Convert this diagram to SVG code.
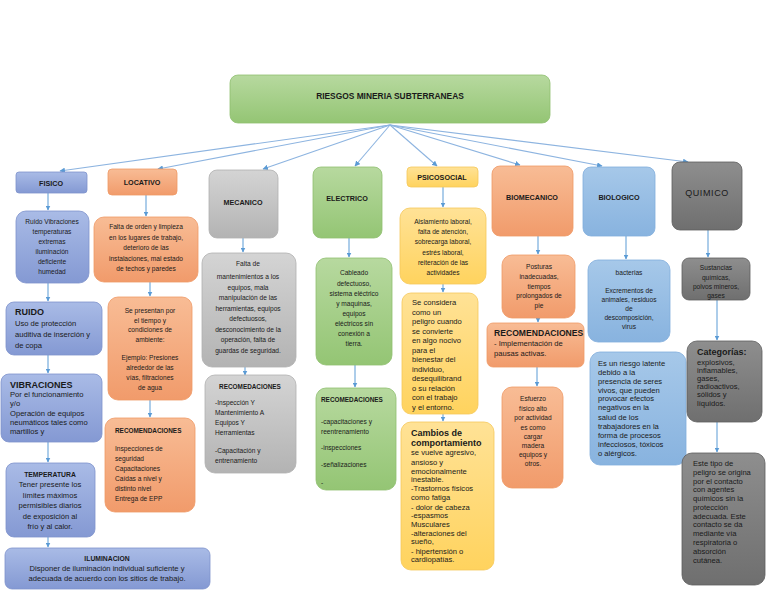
<svg xmlns="http://www.w3.org/2000/svg" width="768" height="594" viewBox="0 0 768 594">
<defs>
<linearGradient id="gGreen" x1="0" y1="0" x2="0" y2="1"><stop offset="0" stop-color="#b7d99f"/><stop offset="1" stop-color="#94c574"/></linearGradient>
<linearGradient id="gBlue" x1="0" y1="0" x2="0" y2="1"><stop offset="0" stop-color="#a9bbe6"/><stop offset="1" stop-color="#8499d3"/></linearGradient>
<linearGradient id="gOrange" x1="0" y1="0" x2="0" y2="1"><stop offset="0" stop-color="#f8bc95"/><stop offset="1" stop-color="#f19b6b"/></linearGradient>
<linearGradient id="gGray" x1="0" y1="0" x2="0" y2="1"><stop offset="0" stop-color="#d4d4d4"/><stop offset="1" stop-color="#b3b3b3"/></linearGradient>
<linearGradient id="gYellow" x1="0" y1="0" x2="0" y2="1"><stop offset="0" stop-color="#ffe296"/><stop offset="1" stop-color="#ffd35e"/></linearGradient>
<linearGradient id="gLBlue" x1="0" y1="0" x2="0" y2="1"><stop offset="0" stop-color="#a6c8e9"/><stop offset="1" stop-color="#88b3df"/></linearGradient>
<linearGradient id="gDark" x1="0" y1="0" x2="0" y2="1"><stop offset="0" stop-color="#8e8e8e"/><stop offset="1" stop-color="#6f6f6f"/></linearGradient>
<marker id="arr" viewBox="0 0 10 10" refX="9" refY="5" markerWidth="5" markerHeight="5" orient="auto"><path d="M0,0 L10,5 L0,10 z" fill="#5b9bd5"/></marker>
</defs>
<style>
.green{fill:url(#gGreen);stroke:#8fbf70;stroke-width:0.8}
.blue{fill:url(#gBlue);stroke:#7d92cc;stroke-width:0.8}
.orange{fill:url(#gOrange);stroke:#ef9966;stroke-width:0.8}
.gray{fill:url(#gGray);stroke:#b0b0b0;stroke-width:0.8}
.yellow{fill:url(#gYellow);stroke:#f5c85a;stroke-width:0.8}
.lblue{fill:url(#gLBlue);stroke:#82addc;stroke-width:0.8}
.dark{fill:url(#gDark);stroke:#5e5e5e;stroke-width:0.8}
text{font-family:"Liberation Sans",Arial,sans-serif;fill:#1a1a1a}
.t{font-size:6.6px;text-anchor:middle}
.tl{font-size:6.6px}
.a{font-size:7.6px}
.am{font-size:7.6px;text-anchor:middle}
.h{font-size:7.2px;font-weight:bold;text-anchor:middle}
.hl{font-size:6.8px;font-weight:bold}
.hb{font-size:9px;font-weight:bold}
.con line{stroke:#5b9bd5;stroke-width:1;marker-end:url(#arr)}
.con .top{stroke:#8db4e0;stroke-width:1.1}
</style>

<g id="connectors" class="con">
<line class="top" x1="390" y1="125" x2="60" y2="171"/>
<line class="top" x1="390" y1="125" x2="158" y2="169"/>
<line class="top" x1="390" y1="125" x2="263" y2="169"/>
<line class="top" x1="390" y1="125" x2="355" y2="166"/>
<line class="top" x1="390" y1="125" x2="437" y2="166"/>
<line class="top" x1="390" y1="125" x2="520" y2="165"/>
<line class="top" x1="390" y1="125" x2="602" y2="166"/>
<line class="top" x1="390" y1="125" x2="688" y2="162"/>
<line x1="48" y1="193" x2="48" y2="210"/>
<line x1="48" y1="283" x2="48" y2="301"/>
<line x1="48" y1="355" x2="48" y2="373"/>
<line x1="48" y1="442" x2="48" y2="462"/>
<line x1="48" y1="537" x2="48" y2="547"/>
<line x1="146" y1="195" x2="146" y2="216"/>
<line x1="150" y1="282" x2="150" y2="296"/>
<line x1="150" y1="400" x2="150" y2="417"/>
<line x1="243" y1="238" x2="243" y2="252"/>
<line x1="245" y1="367" x2="245" y2="375"/>
<line x1="349" y1="238" x2="349" y2="257"/>
<line x1="355" y1="365" x2="355" y2="387"/>
<line x1="443" y1="187" x2="443" y2="207"/>
<line x1="443" y1="284" x2="443" y2="292"/>
<line x1="443" y1="414" x2="443" y2="421"/>
<line x1="538" y1="236" x2="538" y2="254"/>
<line x1="538" y1="318" x2="538" y2="322"/>
<line x1="537" y1="367" x2="537" y2="386"/>
<line x1="626" y1="236" x2="626" y2="259"/>
<line x1="708" y1="230" x2="708" y2="257"/>
<line x1="717" y1="300" x2="717" y2="340"/>
<line x1="717" y1="422" x2="717" y2="452"/>
</g>

<g id="title">
<rect class="green" x="230" y="75" width="320" height="48" rx="8"/>
<text x="390" y="99" style="font-size:8.4px;font-weight:bold;text-anchor:middle">RIESGOS MINERIA SUBTERRANEAS</text>
</g>

<!-- FISICO column -->
<g id="fisico">
<rect class="blue" x="16" y="172" width="71" height="21" rx="3"/>
<text class="h" x="51" y="185.5">FISICO</text>
</g>
<g id="fisico-1">
<rect class="blue" x="16" y="211" width="73" height="72" rx="10"/>
<text class="t"><tspan x="52" y="224">Ruido Vibraciones</tspan><tspan x="52" y="234">temperaturas</tspan><tspan x="52" y="244">extremas</tspan><tspan x="52" y="254">iluminación</tspan><tspan x="52" y="264">deficiente</tspan><tspan x="52" y="274">humedad</tspan></text>
</g>
<g id="ruido">
<rect class="blue" x="6" y="302" width="96" height="53" rx="8"/>
<text class="hb" x="15" y="315">RUIDO</text>
<text class="a"><tspan x="15" y="326">Uso de protección</tspan><tspan x="15" y="337">auditiva de inserción y</tspan><tspan x="15" y="348">de copa</tspan></text>
</g>
<g id="vibraciones">
<rect class="blue" x="1" y="374" width="101" height="68" rx="8"/>
<text class="hb" x="10" y="388">VIBRACIONES</text>
<text class="a"><tspan x="10" y="397">Por el funcionamiento</tspan><tspan x="10" y="406">y/o</tspan><tspan x="10" y="416">Operación de equipos</tspan><tspan x="10" y="425">neumáticos tales como</tspan><tspan x="10" y="434">martillos y</tspan></text>
</g>
<g id="temperatura">
<rect class="blue" x="6" y="463" width="89" height="74" rx="8"/>
<text class="h" x="50" y="477" style="font-size:6.8px">TEMPERATURA</text>
<text class="am"><tspan x="50" y="487">Tener presente los</tspan><tspan x="50" y="497.5">límites máximos</tspan><tspan x="50" y="508">permisibles diarios</tspan><tspan x="50" y="518.5">de exposición al</tspan><tspan x="50" y="529">frío y al calor.</tspan></text>
</g>
<g id="iluminacion">
<rect class="blue" x="5" y="548" width="205" height="41" rx="7"/>
<text class="h" x="107" y="561" style="font-size:6.8px">ILUMINACION</text>
<text class="am"><tspan x="107" y="571">Disponer de iluminación individual suficiente y</tspan><tspan x="107" y="581">adecuada de acuerdo con los sitios de trabajo.</tspan></text>
</g>

<!-- LOCATIVO column -->
<g id="locativo">
<rect class="orange" x="108" y="169" width="69" height="26" rx="4"/>
<text class="h" x="142" y="185">LOCATIVO</text>
</g>
<g id="locativo-1">
<rect class="orange" x="94" y="217" width="104" height="65" rx="10"/>
<text class="t"><tspan x="146" y="229">Falta de orden y limpieza</tspan><tspan x="146" y="240">en los lugares de trabajo,</tspan><tspan x="146" y="250">deterioro de las</tspan><tspan x="146" y="261">instalaciones, mal estado</tspan><tspan x="146" y="271">de techos y paredes</tspan></text>
</g>
<g id="locativo-2">
<rect class="orange" x="108" y="297" width="84" height="103" rx="10"/>
<text class="t"><tspan x="150" y="313">Se presentan por</tspan><tspan x="150" y="322.5">el tiempo y</tspan><tspan x="150" y="332">condiciones de</tspan><tspan x="150" y="342">ambiente:</tspan><tspan x="150" y="360">Ejemplo: Presiones</tspan><tspan x="150" y="369.5">alrededor de las</tspan><tspan x="150" y="379.5">vías, filtraciones</tspan><tspan x="150" y="390">de agua</tspan></text>
</g>
<g id="locativo-rec">
<rect class="orange" x="105" y="418" width="90" height="94" rx="10"/>
<text class="hl" x="115" y="433" style="font-size:6.4px">RECOMENDACIONES</text>
<text class="tl"><tspan x="115" y="451">Inspecciones de</tspan><tspan x="115" y="461">seguridad</tspan><tspan x="115" y="471">Capacitaciones</tspan><tspan x="115" y="481">Caídas a nivel y</tspan><tspan x="115" y="491">distinto nivel</tspan><tspan x="115" y="501">Entrega de EPP</tspan></text>
</g>

<!-- MECANICO column -->
<g id="mecanico">
<rect class="gray" x="209" y="170" width="69" height="68" rx="8"/>
<text class="h" x="243" y="205">MECANICO</text>
</g>
<g id="mecanico-1">
<rect class="gray" x="202" y="253" width="94" height="114" rx="10"/>
<text class="t"><tspan x="248" y="266">Falta de</tspan><tspan x="248" y="279">mantenimientos a los</tspan><tspan x="248" y="289.5">equipos, mala</tspan><tspan x="248" y="300">manipulación de las</tspan><tspan x="248" y="311">herramientas, equipos</tspan><tspan x="248" y="321">defectuosos,</tspan><tspan x="248" y="332">desconocimiento de la</tspan><tspan x="248" y="342">operación, falta de</tspan><tspan x="248" y="353">guardas de seguridad.</tspan></text>
</g>
<g id="mecanico-rec">
<rect class="gray" x="205" y="375" width="91" height="98" rx="10"/>
<text class="h" x="250" y="389" style="font-size:6.4px">RECOMEDACIONES</text>
<text class="tl"><tspan x="215" y="405">-Inspección Y</tspan><tspan x="215" y="415">Mantenimiento A</tspan><tspan x="215" y="425">Equipos Y</tspan><tspan x="215" y="434.5">Herramientas</tspan><tspan x="215" y="452.5">-Capacitación y</tspan><tspan x="215" y="462.5">entrenamiento</tspan></text>
</g>

<!-- ELECTRICO column -->
<g id="electrico">
<rect class="green" x="313" y="167" width="69" height="71" rx="8"/>
<text class="h" x="347" y="200.5">ELECTRICO</text>
</g>
<g id="electrico-1">
<rect class="green" x="316" y="258" width="76" height="107" rx="10"/>
<text class="t"><tspan x="354" y="275">Cableado</tspan><tspan x="354" y="286">defectuoso,</tspan><tspan x="354" y="296">sistema eléctrico</tspan><tspan x="354" y="306">y maquinas,</tspan><tspan x="354" y="316">equipos</tspan><tspan x="354" y="326">eléctricos sin</tspan><tspan x="354" y="336">conexión a</tspan><tspan x="354" y="346">tierra.</tspan></text>
</g>
<g id="electrico-rec">
<rect class="green" x="316" y="388" width="80" height="102" rx="10"/>
<text class="hl" x="321" y="402" style="font-size:6.4px">RECOMEDACIONES</text>
<text class="tl"><tspan x="321" y="424">-capacitaciones y</tspan><tspan x="321" y="434">reentrenamiento</tspan><tspan x="321" y="450">-inspecciones</tspan><tspan x="321" y="467">-señalizaciones</tspan><tspan x="321" y="485">-</tspan></text>
</g>

<!-- PSICOSOCIAL column -->
<g id="psicosocial">
<rect class="yellow" x="407" y="167" width="71" height="20" rx="4"/>
<text class="h" x="442" y="180">PSICOSOCIAL</text>
</g>
<g id="psicosocial-1">
<rect class="yellow" x="400" y="208" width="86" height="76" rx="10"/>
<text class="t"><tspan x="443" y="224">Aislamiento laboral,</tspan><tspan x="443" y="234">falta de atención,</tspan><tspan x="443" y="244">sobrecarga laboral,</tspan><tspan x="443" y="255">estrés laboral,</tspan><tspan x="443" y="265">reiteración de las</tspan><tspan x="443" y="275">actividades</tspan></text>
</g>
<g id="psicosocial-2">
<rect class="yellow" x="402" y="293" width="76" height="121" rx="9"/>
<text class="a"><tspan x="412" y="305">Se considera</tspan><tspan x="412" y="314.5">como un</tspan><tspan x="412" y="324">peligro cuando</tspan><tspan x="412" y="333.5">se convierte</tspan><tspan x="412" y="343">en algo nocivo</tspan><tspan x="412" y="352.5">para el</tspan><tspan x="412" y="362">bienestar del</tspan><tspan x="412" y="371.5">individuo,</tspan><tspan x="412" y="381">desequilibrand</tspan><tspan x="412" y="390.5">o su relación</tspan><tspan x="412" y="400">con el trabajo</tspan><tspan x="412" y="409.5">y el entorno.</tspan></text>
</g>
<g id="psicosocial-3">
<rect class="yellow" x="401" y="422" width="93" height="148" rx="10"/>
<text class="hb"><tspan x="411" y="436">Cambios de</tspan><tspan x="411" y="446">comportamiento</tspan></text>
<text class="a"><tspan x="411" y="455">se vuelve agresivo,</tspan><tspan x="411" y="464.5">ansioso y</tspan><tspan x="411" y="473.5">emocionalmente</tspan><tspan x="411" y="482">inestable.</tspan><tspan x="411" y="491">-Trastornos físicos</tspan><tspan x="411" y="500">como fatiga</tspan><tspan x="411" y="509.5">- dolor de cabeza</tspan><tspan x="411" y="518">-espasmos</tspan><tspan x="411" y="527">Musculares</tspan><tspan x="411" y="536">-alteraciones del</tspan><tspan x="411" y="544">sueño,</tspan><tspan x="411" y="553.5">- hipertensión o</tspan><tspan x="411" y="562">cardiopatías.</tspan></text>
</g>

<!-- BIOMECANICO column -->
<g id="biomecanico">
<rect class="orange" x="492" y="166" width="81" height="70" rx="8"/>
<text class="h" x="532" y="200">BIOMECANICO</text>
</g>
<g id="biomecanico-1">
<rect class="orange" x="502" y="255" width="73" height="63" rx="10"/>
<text class="t"><tspan x="539" y="269">Posturas</tspan><tspan x="539" y="279">inadecuadas,</tspan><tspan x="539" y="288.5">tiempos</tspan><tspan x="539" y="298">prolongados de</tspan><tspan x="539" y="308">pie</tspan></text>
</g>
<g id="biomecanico-rec">
<rect class="orange" x="487" y="323" width="97" height="44" rx="6"/>
<text class="hb" x="494" y="336" style="font-size:8.6px">RECOMENDACIONES</text>
<text class="a"><tspan x="494" y="346">- Implementación de</tspan><tspan x="494" y="356">pausas activas.</tspan></text>
</g>
<g id="biomecanico-2">
<rect class="orange" x="502" y="387" width="61" height="101" rx="10"/>
<text class="t"><tspan x="533" y="401">Esfuerzo</tspan><tspan x="533" y="410.5">físico alto</tspan><tspan x="533" y="420">por actividad</tspan><tspan x="533" y="429.5">es como</tspan><tspan x="533" y="438.5">cargar</tspan><tspan x="533" y="447.5">madera</tspan><tspan x="533" y="456.5">equipos y</tspan><tspan x="533" y="465.5">otros.</tspan></text>
</g>

<!-- BIOLOGICO column -->
<g id="biologico">
<rect class="lblue" x="583" y="167" width="72" height="69" rx="8"/>
<text class="h" x="619" y="200">BIOLOGICO</text>
</g>
<g id="biologico-1">
<rect class="lblue" x="588" y="260" width="82" height="82" rx="10"/>
<text class="t"><tspan x="629" y="275">bacterias</tspan><tspan x="629" y="293">Excrementos de</tspan><tspan x="629" y="302">animales, residuos</tspan><tspan x="629" y="310.5">de</tspan><tspan x="629" y="319.5">descomposición,</tspan><tspan x="629" y="329">virus</tspan></text>
</g>
<g id="biologico-2">
<rect class="lblue" x="590" y="352" width="96" height="113" rx="10"/>
<text class="a"><tspan x="598" y="366"> Es un riesgo latente</tspan><tspan x="598" y="375">debido a la</tspan><tspan x="598" y="384">presencia de seres</tspan><tspan x="598" y="392.5">vivos, que pueden</tspan><tspan x="598" y="401">provocar efectos</tspan><tspan x="598" y="410">negativos en la</tspan><tspan x="598" y="419.5">salud de los</tspan><tspan x="598" y="428.5">trabajadores en la</tspan><tspan x="598" y="437.5">forma de procesos</tspan><tspan x="598" y="446.5">infecciosos, tóxicos</tspan><tspan x="598" y="455.5">o alérgicos.</tspan></text>
</g>

<!-- QUIMICO column -->
<g id="quimico">
<rect class="dark" x="672" y="162" width="70" height="68" rx="8"/>
<text x="707" y="196" style="font-size:9px;text-anchor:middle;letter-spacing:0.6px">QUIMICO</text>
</g>
<g id="quimico-1">
<rect class="dark" x="682" y="258" width="68" height="42" rx="7"/>
<text class="t"><tspan x="716" y="270">Sustancias</tspan><tspan x="716" y="280">químicas,</tspan><tspan x="716" y="289">polvos mineros,</tspan><tspan x="716" y="298">gases</tspan></text>
</g>
<g id="quimico-2">
<rect class="dark" x="687" y="341" width="75" height="81" rx="10"/>
<text class="hb" x="697" y="355">Categorías:</text>
<text class="a"><tspan x="697" y="365">explosivos,</tspan><tspan x="697" y="373">inflamables,</tspan><tspan x="697" y="381">gases,</tspan><tspan x="697" y="389">radioactivos,</tspan><tspan x="697" y="397">sólidos y</tspan><tspan x="697" y="406">líquidos.</tspan></text>
</g>
<g id="quimico-3">
<rect class="dark" x="682" y="453" width="83" height="132" rx="10"/>
<text class="a"><tspan x="693" y="466">Este tipo de</tspan><tspan x="693" y="475">peligro se origina</tspan><tspan x="693" y="484">por el contacto</tspan><tspan x="693" y="492">con agentes</tspan><tspan x="693" y="501">químicos sin la</tspan><tspan x="693" y="510">protección</tspan><tspan x="693" y="519">adecuada. Este</tspan><tspan x="693" y="527">contacto se da</tspan><tspan x="693" y="536">mediante vía</tspan><tspan x="693" y="545">respiratoria o</tspan><tspan x="693" y="554">absorción</tspan><tspan x="693" y="563">cutánea.</tspan></text>
</g>
</svg>
